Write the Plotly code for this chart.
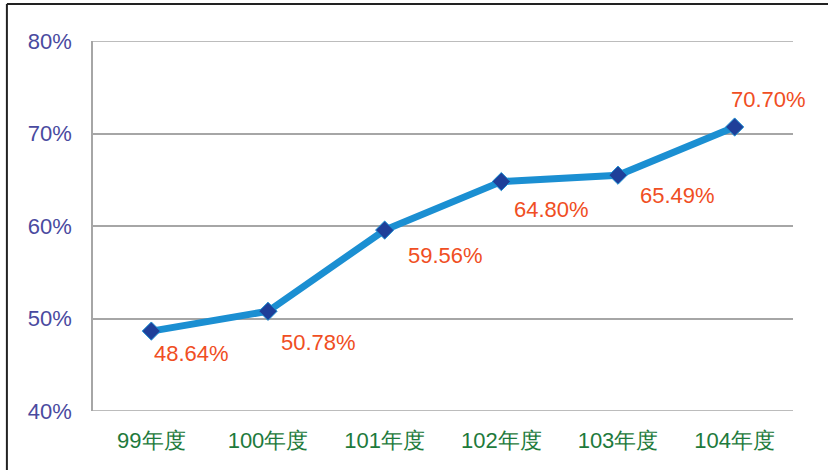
import plotly.graph_objects as go

categories = ["99年度", "100年度", "101年度", "102年度", "103年度", "104年度"]
rates = [48.64, 50.78, 59.56, 64.80, 65.49, 70.70]
y_ticks = [40, 50, 60, 70, 80]
y_tick_labels = [f"{t}%" for t in y_ticks]

# label placement offsets in px (dx, dy up)
label_offsets = [(40, -22), (50, -31), (61, -25), (50, -28), (59, -20), (34, 28)]

font_family = "Liberation Sans, Arial, sans-serif"

fig = go.Figure()

# gridlines at the range edges (plotly hides them at the borders)
for t in (y_ticks[0], y_ticks[-1]):
    fig.add_shape(type="line", xref="paper", yref="y", x0=0, x1=1, y0=t, y1=t,
                  line=dict(color="#a6a6a6", width=1.5), layer="below")

fig.add_trace(go.Scatter(
    x=categories, y=rates, mode="lines+markers",
    line=dict(color="#1b8fd2", width=7),
    marker=dict(symbol="diamond", size=14, color="#1f3f99",
                line=dict(color="#1b8fd2", width=1)),
    hoverinfo="skip", showlegend=False,
))

for c, v, (dx, dy) in zip(categories, rates, label_offsets):
    fig.add_annotation(x=c, y=v, text=f"{v:.2f}%", showarrow=False,
                       xanchor="center", yanchor="middle", xshift=dx, yshift=dy,
                       font=dict(family=font_family, size=22, color="#f04e23"))

# outer frame lines (top and left)
fig.add_shape(type="line", xref="paper", yref="paper", x0=-0.123, x1=1.06,
              y0=1.1, y1=1.1, line=dict(color="#222222", width=2))
fig.add_shape(type="line", xref="paper", yref="paper", x0=-0.123, x1=-0.123,
              y0=1.1, y1=-0.2, line=dict(color="#222222", width=2))

fig.update_layout(
    width=828, height=470,
    margin=dict(l=93, r=35, t=41, b=59),
    paper_bgcolor="white", plot_bgcolor="white",
    font=dict(family=font_family),
    xaxis=dict(type="category", range=[-0.5, 5.5], showgrid=False,
               showline=False, zeroline=False, ticks="",
               tickfont=dict(size=22, color="#1e7a3c"), ticklabelstandoff=14),
    yaxis=dict(range=[40, 80], tickmode="array", tickvals=y_ticks,
               ticktext=y_tick_labels,
               showgrid=True, gridcolor="#a6a6a6", gridwidth=1.5,
               showline=True, linecolor="#a6a6a6", linewidth=1.5,
               zeroline=False, ticks="",
               tickfont=dict(size=22, color="#4a4aa0"), ticklabelstandoff=15),
)

fig.write_html("out.html", config={"displayModeBar": False},
               post_script="document.body.style.margin='0';document.body.style.overflow='hidden';")
